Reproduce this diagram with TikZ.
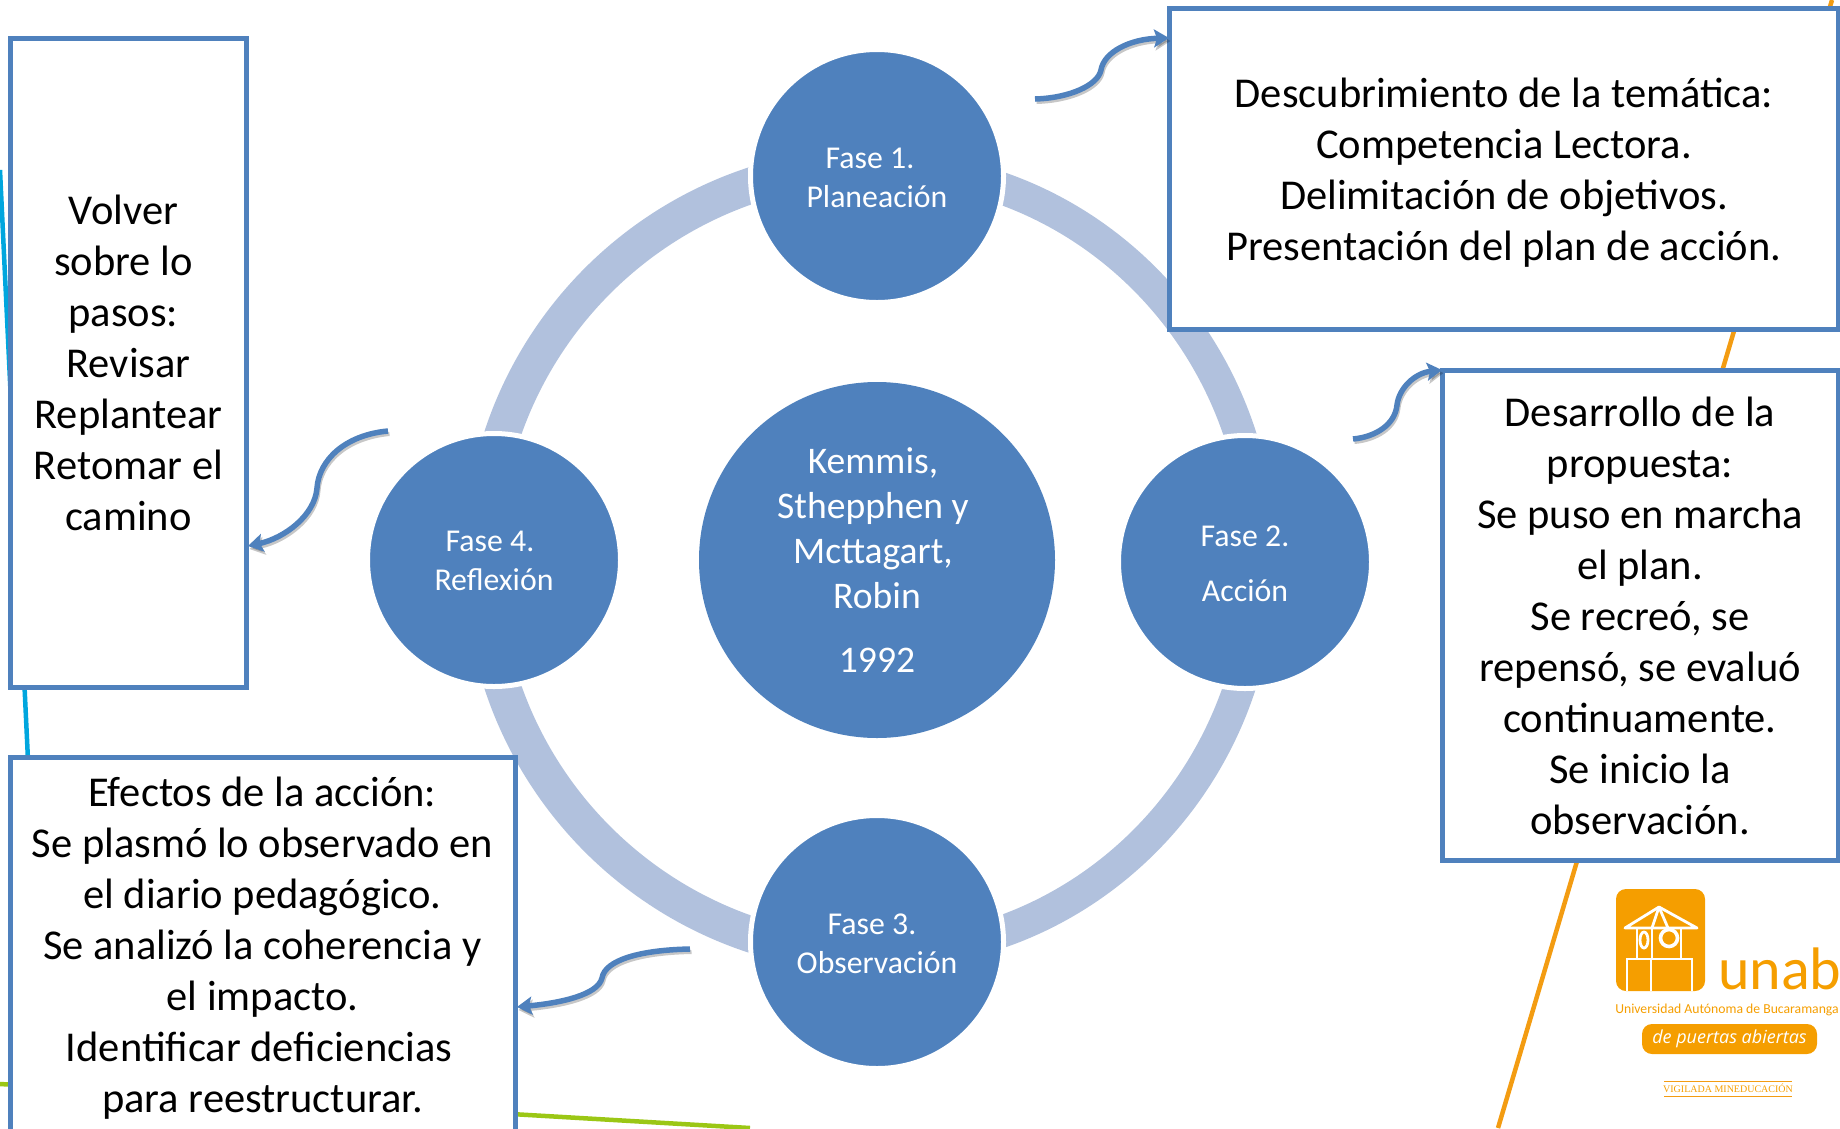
\documentclass[tikz,border=0pt]{standalone}
\usepackage{fontspec}
\setmainfont{Carlito}
\newfontfamily\logofont{Open Sans}
\newfontfamily\vigfont{Liberation Serif}
\usetikzlibrary{arrows.meta}
\definecolor{blueA}{HTML}{4F81BD}
\definecolor{ringB}{HTML}{B1C1DD}
\definecolor{orangeL}{HTML}{F39C12}
\definecolor{logoO}{HTML}{F59E00}
\definecolor{cyanL}{HTML}{00A6DE}
\definecolor{greenL}{HTML}{9BC715}
\newcommand{\topfill}[1]{\rule{0pt}{#1pt}}
\tikzset{
  fasecircle/.style={circle,fill=blueA,draw=white,line width=5pt,minimum size=253pt,inner sep=0pt,text=white,align=center,
    font=\fontsize{31.8}{39}\selectfont},
  centercircle/.style={circle,fill=blueA,minimum size=356pt,inner sep=0pt,text=white,align=center,
    font=\fontsize{37.6}{45}\selectfont},
  textbox/.style={rectangle,draw=blueA,fill=white,line width=5pt,inner sep=0pt,align=center,text=black,
    font=\fontsize{42.5}{51}\selectfont},
  curly/.style={draw=blueA,line width=5.5pt,-{Stealth[length=15pt,width=18pt,inset=3pt]},
    preaction={draw=black,opacity=.22,line width=4pt,transform canvas={xshift=1.5pt,yshift=-3pt}}},
  deco/.style={line width=4.5pt},
  houseline/.style={draw=white,line width=2.8pt},
}
\begin{document}
\begin{tikzpicture}[x=1pt,y=-1pt]
\useasboundingbox (0,0) rectangle (1840,1128);
% background lines
\coordinate (cyA) at (0,170); \coordinate (cyB) at (28,760);
\coordinate (grA) at (0,1084); \coordinate (grB) at (750,1128);
\coordinate (orA) at (1498,1128); \coordinate (orB) at (1832,0);
\draw[deco,cyanL] (cyA) -- (cyB);
\draw[deco,greenL] (grA) -- (grB);
\draw[deco,orangeL] (orA) -- (orB);
% ring: left half slightly wider than right half
\coordinate (ringL) at (877,165);
\coordinate (ringR) at (877,167);
\draw[ringB,line width=36pt] (ringL) arc[start angle=90,end angle=270,x radius=395pt,y radius=395pt];
\draw[ringB,line width=32pt] (ringR) arc[start angle=90,end angle=-90,x radius=383pt,y radius=393pt];
% circles
\node[centercircle] (cc) at (877,560) {\kern-8pt Kemmis,\\\kern-8pt Sthepphen y\\\kern-8pt Mcttagart,\\Robin\\[19pt]1992};
\node[fasecircle] (f1) at (877,176) {\kern-14pt\topfill{25}Fase 1.\\Planeación};
\node[fasecircle] (f2) at (1245,562) {\topfill{25}Fase 2.\\[16pt]Acción};
\node[fasecircle] (f3) at (877,942) {\kern-10pt\topfill{25}Fase 3.\\Observación};
\node[fasecircle] (f4) at (494,560) {\kern-8pt\topfill{23}Fase 4.\\Reflexión};
% boxes
\node[textbox,minimum width=669pt,minimum height=321pt] (b1) at (1504,168.5) {\topfill{37}Descubrimiento de la temática:\\Competencia Lectora.\\Delimitación de objetivos.\\Presentación del plan de acción.};
\node[textbox,minimum width=396pt,minimum height=490pt] (b2) at (1640,615) {\topfill{32}Desarrollo de la\\propuesta:\\Se puso en marcha\\el plan.\\Se recreó, se\\repensó, se evaluó\\continuamente.\\Se inicio la\\observación.};
\node[textbox,minimum width=236pt,minimum height=649pt] (b4) at (128.5,362.5) {Volver\kern10pt\\sobre lo\kern10pt\\pasos:\kern10pt\\Revisar\\Replantear\\Retomar el\\camino};
\node[textbox,minimum width=505pt,minimum height=376pt] (b3) at (262.5,945) {\topfill{35}Efectos de la acción:\\Se plasmó lo observado en\\el diario pedagógico.\\Se analizó la coherencia y\\el impacto.\\\kern-7pt Identificar deficiencias\\para reestructurar.};
% curly arrows
\coordinate (a1s) at (1035,99); \coordinate (a1e) at (1169,38);
\coordinate (a2s) at (1353,439); \coordinate (a2e) at (1442,370);
\coordinate (a3s) at (690,949); \coordinate (a3e) at (517,1007);
\coordinate (a4s) at (388,431); \coordinate (a4e) at (248,546);
\draw[curly] (a1s) .. controls (1070,98) and (1098,85) .. (1101,70) .. controls (1104,52) and (1130,39) .. (a1e);
\draw[curly] (a2s) .. controls (1375,437) and (1395,425) .. (1397,405) .. controls (1399,388) and (1415,373) .. (a2e);
\draw[curly] (a3s) .. controls (640,950) and (605,960) .. (602,978) .. controls (598,995) and (560,1003) .. (a3e);
\draw[curly] (a4s) .. controls (345,435) and (319,460) .. (317,488) .. controls (315,515) and (285,538) .. (a4e);
% logo
\node[rectangle,fill=logoO,rounded corners=10pt,minimum width=89pt,minimum height=102pt,inner sep=0pt] (lg) at (1660.5,940) {};
\draw[houseline,line join=round] (1625,928) -- (1659,907) -- (1697,928) -- cycle;
\draw[houseline] (1659,907) -- (1652,928) (1659,907) -- (1668,928);
\draw[houseline] (1637,928) -- (1637,958) (1681,928) -- (1681,958) (1652,928) -- (1652,958);
\draw[houseline] (1627,991) -- (1627,959) -- (1692,959) -- (1692,991) (1651,959) -- (1651,991);
\draw[houseline] (1644,940) ellipse[x radius=4pt,y radius=8pt];
\draw[houseline,line width=3.6pt] (1669,938) circle[radius=8.5pt];
\node[anchor=base west,inner sep=0pt,text=logoO,font=\fontsize{60}{60}\selectfont] (lgt) at (1718,989) {unab};
\node[anchor=base,inner sep=0pt,text=logoO,font=\fontsize{13.7}{15}\selectfont] (lgu) at (1727,1013) {Universidad Autónoma de Bucaramanga};
\node[rectangle,fill=logoO,rounded corners=10pt,minimum width=175pt,minimum height=30pt,inner sep=0pt,text=white,font=\logofont\itshape\fontsize{18}{20}\selectfont] (lgp) at (1729.5,1039) {de puertas abiertas};
\node[anchor=base,inner sep=0pt,text=logoO,font=\vigfont\fontsize{10}{12}\selectfont] (lgv) at (1728,1092) {VIGILADA MINEDUCACIÓN};
\coordinate (vA) at (1664,1081); \coordinate (vB) at (1792,1081);
\coordinate (vC) at (1664,1096); \coordinate (vD) at (1792,1096);
\draw[orangeL,line width=.8pt] (vA) -- (vB) (vC) -- (vD);
\end{tikzpicture}
\end{document}
